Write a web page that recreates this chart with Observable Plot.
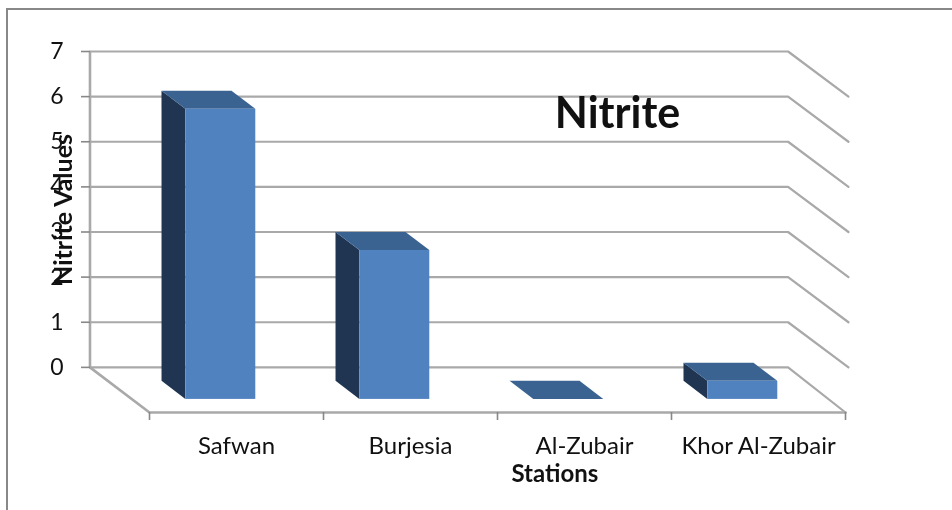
<!DOCTYPE html>
<html>
<head>
<meta charset="utf-8">
<script src="https://cdn.jsdelivr.net/npm/d3@7"></script>
<script src="https://cdn.jsdelivr.net/npm/@observablehq/plot@0.6"></script>
<style>
  html, body { margin: 0; padding: 0; background: #fff; }
  #page { position: relative; width: 952px; height: 510px; overflow: hidden; }
  #sheet { position: absolute; left: 6px; top: 8px; right: -4px; bottom: -4px;
           border-left: 2px solid #888; border-top: 2px solid #888; pointer-events: none; }
  svg { display: block; filter: blur(0.5px); }
</style>
</head>
<body>
<div id="page"><div id="sheet"></div></div>
<script>
const title = "Nitrite";
const xLabel = "Stations";
const yLabel = "Nitrite Values";
const stations = ["Safwan", "Burjesia", "Al-Zubair", "Khor Al-Zubair"];
const nitrite = [6.43, 3.3, 0, 0.4];
const yTicks = [0, 1, 2, 3, 4, 5, 6, 7];

// Depth projection, in scale units: depth 0 is the back wall, depth 1 the front edge of the floor.
const skewX = 0.342, skewY = 1;
const px = (c, d) => c - skewX * (1 - d);
const py = (v, d) => v - skewY * d;
const barStart = 0.308, barWidth = 0.402, depthBack = 0.31, depthFront = 0.71;
const tickLength = 0.177;

const bars = stations.map((s, i) => ({
  station: s, value: nitrite[i],
  left: i + barStart, right: i + barStart + barWidth
}));

const grid = yTicks.flatMap(v => [
  {v, x: px(0, 0), y: py(v, 0)},
  {v, x: px(stations.length, 0) + 0.012, y: py(v, 0)},
  {v, x: px(stations.length, 1) + (v > 0 ? 0.017 : 0), y: py(v, 1)}
]);
const floorEdge = [
  {x: px(0, 0), y: py(0, 0)},
  {x: px(0, 1), y: py(0, 1)},
  {x: px(stations.length, 1), y: py(0, 1)}
];
const wall = [{x: px(0, 0), y1: 0, y2: yTicks[yTicks.length - 1]}];
const separators = d3.range(stations.length + 1).map(c => ({
  x: c, y1: py(0, 1), y2: py(0, 1) - tickLength
}));

const sideFaces = bars.filter(b => b.value > 0).flatMap(b => [
  {s: b.station, x: px(b.left, depthBack), y1: py(0, depthBack), y2: py(b.value, depthBack)},
  {s: b.station, x: px(b.left, depthFront), y1: py(0, depthFront), y2: py(b.value, depthFront)}
]);
const topFaces = bars.flatMap(b => [
  {s: b.station, y: py(b.value, depthBack), x1: px(b.left, depthBack), x2: px(b.right, depthBack)},
  {s: b.station, y: py(b.value, depthFront), x1: px(b.left, depthFront), x2: px(b.right, depthFront)}
]);
const frontFaces = bars.filter(b => b.value > 0).map(b => ({
  x1: px(b.left, depthFront), x2: px(b.right, depthFront),
  y1: py(0, depthFront), y2: py(b.value, depthFront)
}));

const gridColor = "#a9a9a9";
const font = "Lato, 'Open Sans', sans-serif";

const chart = Plot.plot({
  width: 952, height: 510,
  marginLeft: 90, marginRight: 107, marginTop: 51, marginBottom: 98,
  style: {background: "transparent", fontFamily: font, color: "#111", overflow: "visible"},
  x: {domain: [0, stations.length], range: [149, 845], axis: null},
  y: {domain: [-1, 7], range: [412, 51], axis: null},
  marks: [
    Plot.line(grid, {x: "x", y: "y", z: "v", stroke: gridColor, strokeWidth: 2.2, curve: "linear"}),
    Plot.line(floorEdge, {x: "x", y: "y", stroke: gridColor, strokeWidth: 2.6}),
    Plot.ruleX(wall, {x: "x", y1: "y1", y2: "y2", stroke: gridColor, strokeWidth: 2.6}),
    // left axis ticks and labels
    Plot.axisY({
      anchor: "left", ticks: yTicks, tickSize: 9, tickPadding: 18, tickFormat: d3.format("d"),
      stroke: "#888", strokeWidth: 1.6, fontSize: 23, fill: "#111", label: null
    }),
    // category separators below the floor
    Plot.ruleX(separators, {x: "x", y1: "y1", y2: "y2", stroke: "#888", strokeWidth: 1.6}),
    // 3-D bars
    Plot.areaY(sideFaces, {x: "x", y1: "y1", y2: "y2", z: "s", fill: "#1f3552", curve: "linear"}),
    Plot.areaX(topFaces, {y: "y", x1: "x1", x2: "x2", z: "s", fill: "#3b6392", curve: "linear"}),
    Plot.rect(frontFaces, {x1: "x1", x2: "x2", y1: "y1", y2: "y2", fill: "#5082bf"}),
    // category labels
    Plot.text(stations, {
      x: (_, i) => i + 0.5, y: py(0, 1), dy: 34,
      text: d => d, fontSize: 24, fill: "#111"
    }),
    Plot.text([xLabel], {
      x: 2.33, y: py(0, 1), dy: 62,
      fontSize: 24, fontWeight: "bold", fill: "#111"
    }),
    Plot.text([yLabel], {
      frameAnchor: "left", textAnchor: "middle", dx: -27, y: 3.5, rotate: -90,
      fontSize: 25, fontWeight: "bold", fill: "#111"
    }),
    Plot.text([title], {
      x: 2.69, y: 5.6, fontSize: 43, fontWeight: "bold", fill: "#111", textAnchor: "middle"
    })
  ]
});
document.getElementById("page").appendChild(chart);
</script>
</body>
</html>
